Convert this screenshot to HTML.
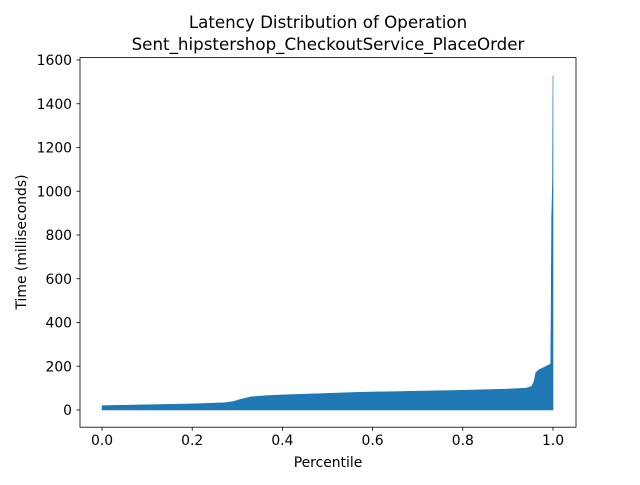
<!DOCTYPE html>
<html><head><meta charset="utf-8"><style>
body{margin:0;background:#fff}
svg text{font-family:"DejaVu Sans","Liberation Sans",sans-serif;fill:#000}
</style></head><body>
<svg width="640" height="480" xmlns="http://www.w3.org/2000/svg">
<text x="328" y="28" font-size="16.7" text-anchor="middle">Latency Distribution of Operation</text>
<text x="328" y="50" font-size="16.7" text-anchor="middle">Sent_hipstershop_CheckoutService_PlaceOrder</text>
<g id="plot"></g>
<rect x="80" y="57.6" width="496" height="369.6" fill="none" stroke="#000" stroke-width="0.8"/>
<text x="328" y="467" font-size="13.9" text-anchor="middle">Percentile</text>
<text transform="translate(26,242) rotate(-90)" font-size="13.9" text-anchor="middle">Time (milliseconds)</text>
</svg>
<script>
const percentiles=[0,0.1,0.2,0.27,0.29,0.31,0.33,0.36,0.4,0.5,0.57,0.7,0.8,0.9,0.94,0.952,0.958,0.962,0.97,0.98,0.991,0.995,0.996,0.997,0.998,0.999,1.0];
const latencies=[20,24,28,33,38,50,60,65,69,76,81,86,90,96,100,107,130,172,185,195,206,212,500,880,950,1050,1530];
const xTicks=[0,0.2,0.4,0.6,0.8,1.0];
const xTickLabels=["0.0","0.2","0.4","0.6","0.8","1.0"];
const yTicks=[0,200,400,600,800,1000,1200,1400,1600];
const xs=v=>102+v*451;
const ys=v=>410-v*0.21875;
const NS="http://www.w3.org/2000/svg";
const g=document.getElementById('plot');
let d="M"+xs(percentiles[0])+","+ys(0);
percentiles.forEach((p,i)=>{d+=" L"+xs(p)+","+ys(latencies[i]);});
d+=" L"+xs(percentiles[percentiles.length-1])+","+ys(0)+" Z";
const area=document.createElementNS(NS,'path');
area.setAttribute('d',d);area.setAttribute('fill','#1f77b4');area.setAttribute('stroke','#1f77b4');area.setAttribute('stroke-width','0.6');


g.appendChild(area);
xTicks.forEach((t,i)=>{
 const l=document.createElementNS(NS,'line');
 l.setAttribute('x1',xs(t));l.setAttribute('x2',xs(t));l.setAttribute('y1',427.2);l.setAttribute('y2',430.7);l.setAttribute('stroke','#000');l.setAttribute('stroke-width','0.8');
 
 
 g.appendChild(l);
 const tx=document.createElementNS(NS,'text');
 tx.setAttribute('x',xs(t));tx.setAttribute('y',445);tx.setAttribute('font-size','13.9');tx.setAttribute('text-anchor','middle');
 tx.textContent=xTickLabels[i];
 
 
 g.appendChild(tx);
});
yTicks.forEach(t=>{
 const l=document.createElementNS(NS,'line');
 l.setAttribute('x1',76.5);l.setAttribute('x2',80);l.setAttribute('y1',ys(t));l.setAttribute('y2',ys(t));l.setAttribute('stroke','#000');l.setAttribute('stroke-width','0.8');
 
 
 g.appendChild(l);
 const tx=document.createElementNS(NS,'text');
 tx.setAttribute('x',72);tx.setAttribute('y',ys(t)+5);tx.setAttribute('font-size','13.9');tx.setAttribute('text-anchor','end');
 tx.textContent=String(t);
 
 
 g.appendChild(tx);
});
</script>
</body></html>
